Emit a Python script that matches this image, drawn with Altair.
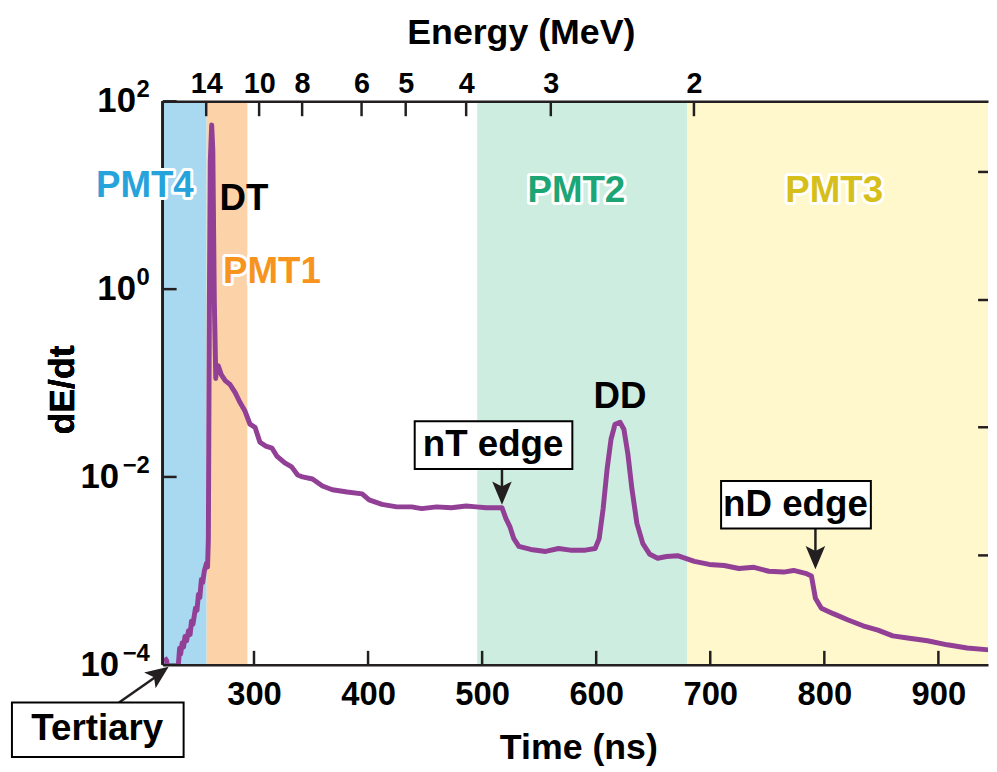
import altair as alt
import pandas as pd

# ---------------- data ----------------
time_ns = [221.7, 223.5, 225.2, 232.2, 233.9, 234.8, 235.7, 237.0, 238.3, 239.5, 240.9, 242.6, 244.0, 245.2,
           246.5, 248.7, 250.0, 251.3, 252.5, 253.9, 255.0, 256.5, 258.3, 259.3, 260.0, 260.9, 261.7, 262.9,
           263.9, 265.2, 266.5, 267.0, 268.7, 271.3, 274.8, 279.1, 283.5, 287.8, 292.2, 296.5, 300.9, 305.2,
           310.4, 315.7, 320.0, 327.0, 333.0, 338.3, 342.6, 351.3, 360.0, 368.7, 381.7, 394.8, 400.9, 412.2,
           425.2, 438.3, 447.0, 460.0, 473.0, 486.1, 494.8, 503.5, 517.4, 520.9, 524.3, 527.8, 532.2, 542.6,
           555.7, 567.0, 577.4, 590.4, 599.1, 602.6, 606.1, 609.6, 613.0, 616.5, 620.9, 624.3, 627.8, 631.3,
           635.7, 640.9, 647.0, 653.9, 661.7, 671.3, 686.1, 699.1, 712.2, 725.2, 738.3, 751.3, 764.3, 773.0,
           783.5, 788.7, 792.2, 797.4, 807.8, 820.9, 833.9, 847.0, 860.0, 873.0, 890.4, 907.8, 925.2, 944.3]
dE_dt = [1.19e-4, 1.10e-4, 5e-5, 5e-5, 1.08e-4, 1.5e-4, 1.3e-4, 1.7e-4, 1.55e-4, 2.0e-4, 1.8e-4, 2.3e-4,
         2.1e-4, 2.9e-4, 2.7e-4, 4.0e-4, 3.8e-4, 5.6e-4, 5.2e-4, 8.1e-4, 7.5e-4, 1.0e-3, 1.2e-3, 1.1e-3,
         2.2e-3, 0.77, 23, 56, 30, 0.77, 0.112, 0.153, 0.153, 0.123, 0.106, 0.096, 0.079, 0.062, 0.050,
         0.0364, 0.0338, 0.0234, 0.0213, 0.0203, 0.0167, 0.0141, 0.0128, 0.0105, 0.0100, 0.0095, 0.0080,
         0.0073, 0.0069, 0.0066, 0.0057, 0.0051, 0.0048, 0.0048, 0.0046, 0.0048, 0.0047, 0.0049, 0.0048,
         0.0047, 0.0047, 0.0036, 0.00296, 0.0022, 0.00182, 0.00169, 0.00161, 0.00173, 0.00166, 0.00166,
         0.00173, 0.0022, 0.0046, 0.0122, 0.0252, 0.0364, 0.0382, 0.0322, 0.0175, 0.0075, 0.0032, 0.00195,
         0.0015, 0.00136, 0.00142, 0.00145, 0.00126, 0.00117, 0.00114, 0.00106, 0.00109, 0.00099, 0.00097,
         0.00101, 0.00094, 0.00088, 0.00051, 0.0004, 0.00035, 0.0003, 0.00026, 0.000234, 0.000203,
         0.000193, 0.00018, 0.000163, 0.000151, 0.000144]

band_names = ["PMT4", "PMT1", "PMT2", "PMT3"]
band_start = [220.0, 258.5, 495.7, 679.7]
band_end = [258.5, 294.2, 679.7, 943.5]

x_tick_values = [300, 400, 500, 600, 700, 800, 900]
energy_labels = ["14", "10", "8", "6", "5", "4", "3", "2"]
energy_tick_times = [258.1, 304.5, 342.2, 394.3, 433.0, 486.0, 560.2, 685.7]
y_tick_values = [1e2, 1e0, 1e-2, 1e-4]
y_tick_exponents = ["2", "0", "\u22122", "\u22124"]
right_tick_values = [17.7, 0.766, 0.0338, 0.00146]

label_texts = ["PMT4", "DT", "PMT1", "PMT2", "PMT3", "DD"]
label_time = [204.3, 291.3, 315.7, 582.6, 808.7, 620.9]
label_value = [12.6, 9.2, 1.51, 11.2, 11.2, 0.0703]

box_texts = ["nT edge", "nD edge", "Tertiary"]

# ---------------- styling ----------------
W, H = 832, 568
FONT = "Liberation Sans"
INK = "#231F20"
PURPLE = "#923F96"
band_colors = ["#A9D9F0", "#FCD3A8", "#CDEDE0", "#FEF8CC"]
label_colors = ["#27A3DC", "black", "#F7941D", "#1CA675", "#D6BF1A", "black"]
label_halo = [True, False, True, True, True, False]

xs = alt.Scale(domain=[220, 943.5], nice=False, zero=False)
ys = alt.Scale(type="log", domain=[1e-4, 1e2], nice=False)

# bands
bands = pd.DataFrame({"name": band_names, "start": band_start, "end": band_end,
                      "color": band_colors, "top": 1e2, "bottom": 1e-4})
band_layer = alt.Chart(bands).mark_rect(clip=True).encode(
    x=alt.X("start:Q", scale=xs, axis=None), x2="end:Q",
    y=alt.Y("top:Q", scale=ys, axis=None), y2="bottom:Q",
    color=alt.Color("color:N", scale=None))

# main line with bottom axis
line_df = pd.DataFrame({"t": time_ns, "v": dE_dt})
line = alt.Chart(line_df).mark_line(color=PURPLE, strokeWidth=5, clip=True,
                                    strokeJoin="round").encode(
    x=alt.X("t:Q", scale=xs, axis=alt.Axis(
        orient="bottom", values=x_tick_values, ticks=False, tickSize=0, grid=False,
        domainColor=INK, domainWidth=2.5, zindex=2,
        labelFont=FONT, labelFontSize=33, labelFontWeight="bold", labelColor="black",
        labelPadding=40, labelBaseline="alphabetic", labelOverlap=False, labelFlush=False,
        title="Time (ns)", titleFont=FONT, titleFontSize=36, titleFontWeight="bold",
        titleColor="black", titleX=419, titleY=95, titleBaseline="alphabetic", titleAlign="center")),
    y=alt.Y("v:Q", scale=ys, axis=None))

# top energy axis (ticks drawn inward as rules)
label_expr = " : ".join(f"datum.value == {t} ? '{e}'" for t, e in zip(energy_tick_times, energy_labels)) + " : ''"
top_df = pd.DataFrame({"t": energy_tick_times, "E": energy_labels})
top_ticks = alt.Chart(top_df).mark_rule(color=INK, strokeWidth=2.5).encode(
    x=alt.X("t:Q", scale=xs, axis=alt.Axis(
        orient="top", values=energy_tick_times, labelExpr=label_expr, ticks=False, tickSize=0,
        grid=False, domainColor=INK, domainWidth=2.5, zindex=2,
        labelFont=FONT, labelFontSize=29, labelFontWeight="bold", labelColor="black",
        labelPadding=9, labelBaseline="alphabetic", labelOverlap=False, labelFlush=False,
        title="Energy (MeV)", titleFont=FONT, titleFontSize=36, titleFontWeight="bold",
        titleColor="black", titleX=361, titleY=-58, titleBaseline="alphabetic", titleAlign="center")),
    y=alt.value(0), y2=alt.value(15))

bottom_ticks = alt.Chart(pd.DataFrame({"t": x_tick_values})).mark_rule(color=INK, strokeWidth=2.5).encode(
    x=alt.X("t:Q", scale=xs, axis=None), y=alt.value(H - 14), y2=alt.value(H))

is_neg = [e.startswith("\u2212") for e in y_tick_exponents]
yt_df = pd.DataFrame({"v": y_tick_values, "exp": y_tick_exponents,
                      "shift": [8, 3, 0, -5],
                      "base_x": [-44 if n else -27 for n in is_neg]})
left_ticks = alt.Chart(yt_df).mark_rule(color=INK, strokeWidth=2.5).encode(
    y=alt.Y("v:Q", scale=ys, axis=None), x=alt.value(0), x2=alt.value(14))

left_spine = alt.Chart(yt_df).mark_rule(color=INK, strokeWidth=2.5).encode(
    x=alt.value(0), y=alt.value(0), y2=alt.value(H))

y_title = alt.Chart(yt_df).mark_text(
    text="dE/dt", font=FONT, fontSize=36, fontWeight="bold", color="black",
    angle=270, align="center", baseline="alphabetic").encode(
    x=alt.value(-89), y=alt.value(291))

right_ticks = alt.Chart(pd.DataFrame({"v": right_tick_values})).mark_rule(color=INK, strokeWidth=2.5).encode(
    y=alt.Y("v:Q", scale=ys, axis=None), x=alt.value(W - 10), x2=alt.value(W))

# y tick labels 10^n
y_base = alt.Chart(yt_df).mark_text(font=FONT, fontSize=35, fontWeight="bold", color="black",
                                    align="right", baseline="middle").encode(
    y=alt.Y("v:Q", scale=ys, axis=None), yOffset=alt.YOffset("shift:Q", scale=None),
    x=alt.X("base_x:Q", scale=None), text=alt.value("10"))
y_exp = alt.Chart(yt_df).mark_text(font=FONT, fontSize=24, fontWeight="bold", color="black",
                                   align="right", baseline="middle", dy=-11).encode(
    y=alt.Y("v:Q", scale=ys, axis=None), yOffset=alt.YOffset("shift:Q", scale=None),
    x=alt.value(-13), text="exp:N")

# region / peak labels
lab_df = pd.DataFrame({"text": label_texts, "t": label_time, "v": label_value,
                       "color": label_colors, "halo": label_halo})
halo = alt.Chart(lab_df).transform_filter("datum.halo").mark_text(
    font=FONT, fontSize=37, fontWeight="bold", baseline="middle", align="center",
    stroke="white", strokeWidth=6, strokeJoin="round").encode(
    x=alt.X("t:Q", scale=xs, axis=None), y=alt.Y("v:Q", scale=ys, axis=None),
    text="text:N", color=alt.Color("color:N", scale=None))
labels = alt.Chart(lab_df).mark_text(
    font=FONT, fontSize=37, fontWeight="bold", baseline="middle", align="center").encode(
    x=alt.X("t:Q", scale=xs, axis=None), y=alt.Y("v:Q", scale=ys, axis=None),
    text="text:N", color=alt.Color("color:N", scale=None))

# boxed annotations
box_df = pd.DataFrame({"text": box_texts,
                       "t1": [440.9, 709.5, 87.8], "t2": [579.1, 840.8, 238.3],
                       "v1": [0.0392, 0.00907, 3.96e-5], "v2": [0.01216, 0.00282, 1.04e-5],
                       "tc": [509.6, 774.7, 162.6], "vc": [0.0218, 0.00506, 2.05e-5]})
boxes = alt.Chart(box_df).mark_rect(fill="white", stroke="black", strokeWidth=2).encode(
    x=alt.X("t1:Q", scale=xs, axis=None), x2="t2:Q",
    y=alt.Y("v1:Q", scale=ys, axis=None), y2="v2:Q")
box_text = alt.Chart(box_df).mark_text(font=FONT, fontSize=37, fontWeight="bold", color="black",
                                       baseline="middle", align="center").encode(
    x=alt.X("tc:Q", scale=xs, axis=None), y=alt.Y("vc:Q", scale=ys, axis=None), text="text:N")

# arrows
arrow_df = pd.DataFrame({"ts": [517.4, 792.2, 181.7], "vs": [0.01216, 0.00282, 3.96e-5],
                         "te": [517.4, 792.2, 216.5], "ve": [0.0062, 0.0013, 7.83e-5],
                         "tt": [517.4, 792.2, 225.2], "vt": [0.00506, 0.00104, 9.53e-5],
                         "ang": [180, 180, 54]})
shafts = alt.Chart(arrow_df).mark_rule(color=INK, strokeWidth=2.5).encode(
    x=alt.X("ts:Q", scale=xs, axis=None), x2="te:Q",
    y=alt.Y("vs:Q", scale=ys, axis=None), y2="ve:Q")
heads = alt.Chart(arrow_df).mark_point(
    shape="M0,0 L0.42,1 L0,0.78 L-0.42,1 Z", filled=True, size=2200, color=INK, opacity=1,
    strokeWidth=0).encode(
    x=alt.X("tt:Q", scale=xs, axis=None), y=alt.Y("vt:Q", scale=ys, axis=None),
    angle=alt.Angle("ang:Q", scale=None))

chart = alt.layer(
    band_layer, bottom_ticks, left_ticks, right_ticks, top_ticks, line, left_spine, y_title,
    halo, labels, y_base, y_exp, shafts, boxes, box_text, heads
).resolve_axis(x="independent").properties(
    width=W, height=H,
    autosize=alt.AutoSizeParams(type="none"),
    padding={"left": 156, "top": 91, "right": 1, "bottom": 100},
).configure_view(stroke=None)

chart.save("out.html", embed_options={"renderer": "svg", "actions": False})
